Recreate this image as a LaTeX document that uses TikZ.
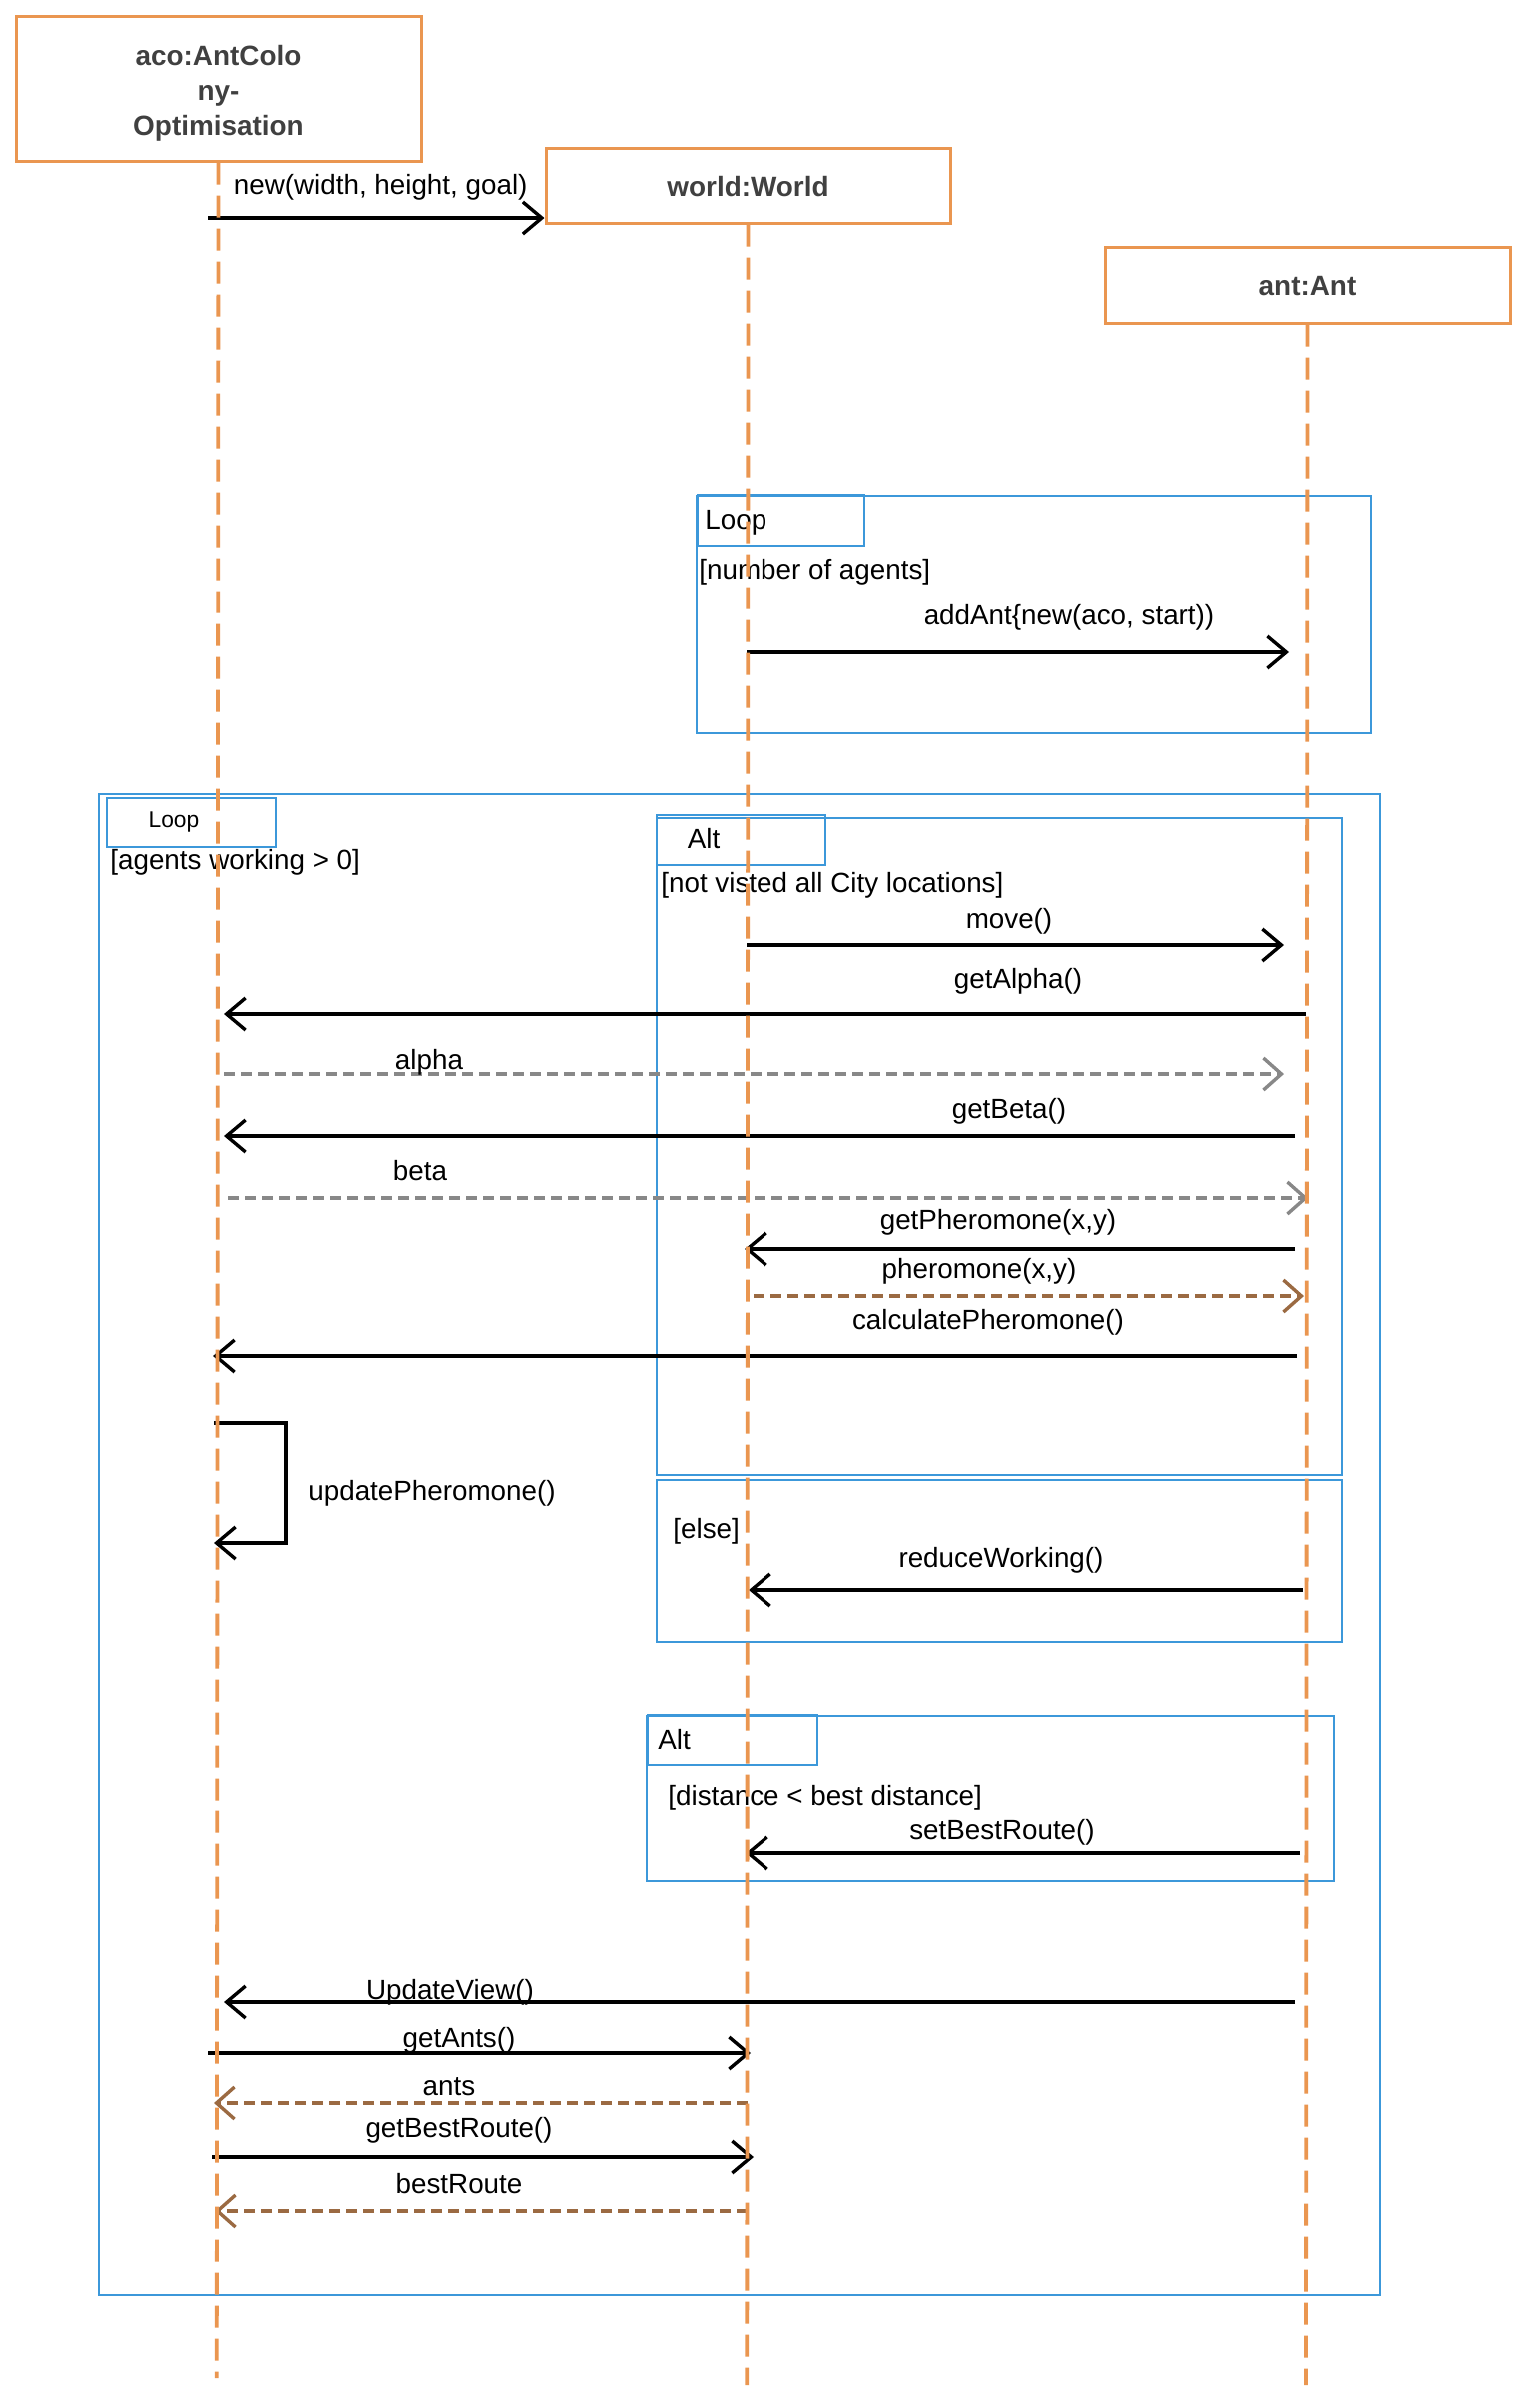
\documentclass[tikz,border=0pt]{standalone}
\usepackage{fontspec}
\setmainfont{Liberation Sans}
\usetikzlibrary{arrows.meta}
\definecolor{llorange}{RGB}{234,150,80}
\definecolor{frblue}{RGB}{60,152,218}
\definecolor{rgray}{RGB}{136,136,136}
\definecolor{rbrown}{RGB}{155,106,66}
\definecolor{hdgray}{RGB}{64,64,64}
\begin{document}
\begin{tikzpicture}[x=0.5pt,y=-0.5pt,
 objbox/.style={draw=llorange, line width=1.5pt, fill=white, inner sep=0pt},
 objtext/.style={inner sep=0pt, font=\fontsize{13.95}{17.4}\selectfont\bfseries, text=hdgray, align=center},
 lifeline/.style={draw=llorange, line width=1.9pt, dash pattern=on 11pt off 5.5pt},
 frame/.style={draw=frblue, line width=0.8pt},
 lbl/.style={inner sep=0pt, yshift=-1pt, font=\fontsize{13.9}{16}\selectfont, text height=10.2pt, text depth=2.9pt},
 smalllbl/.style={inner sep=0pt, yshift=-0.5pt, font=\fontsize{11.4}{13}\selectfont, text height=8.4pt, text depth=2.4pt},
 callarrow/.style={draw=black, line width=1.7pt, -{Straight Barb[length=9.5pt,width=16pt]}},
 retgray/.style={draw=rgray, line width=1.7pt, dash pattern=on 5.5pt off 3pt, -{Straight Barb[length=9pt,width=16pt]}},
 retbrown/.style={draw=rbrown, line width=1.7pt, dash pattern=on 5.5pt off 3pt, -{Straight Barb[length=9pt,width=16pt]}}
]
\useasboundingbox (0,0) rectangle (1530,2410);
\fill[white] (0,0) rectangle (1530,2410);

% ---------- frames ----------
\draw[frame] (697,496) rectangle (1372,734);
\node[frame, draw, inner sep=0pt, minimum width=83.5pt, minimum height=25.5pt, anchor=north west] (loopA) at (697,494) {};
\draw[frame] (99,795) rectangle (1381,2297);
\node[frame, draw, inner sep=0pt, minimum width=84.5pt, minimum height=24.5pt, anchor=north west] (loopB) at (106,798) {};
\draw[frame] (657,819) rectangle (1343,1476);
\draw[frame] (657,1481) rectangle (1343,1643);
\node[frame, draw, inner sep=0pt, minimum width=84.5pt, minimum height=25pt, anchor=north west] (altA) at (656,815) {};
\draw[frame] (647,1717) rectangle (1335,1883);
\node[frame, draw, inner sep=0pt, minimum width=85pt, minimum height=25pt, anchor=north west] (altB) at (647,1715) {};

% ---------- frame texts ----------
\node[lbl, anchor=west] (tLoopA) at (705,520) {Loop};
\node[lbl, anchor=west] (gLoopA) at (699,570) {[number of agents]};
\node[smalllbl] (tLoopB) at (174,821) {Loop};
\node[lbl, anchor=west] (gLoopB) at (110,861) {[agents working > 0]};
\node[lbl] (tAltA) at (704,840) {Alt};
\node[lbl, anchor=west] (gAltA) at (661,884) {[not visted all City locations]};
\node[lbl, anchor=west] (gElse) at (673,1530) {[else]};
\node[lbl, anchor=west] (tAltB) at (658,1741) {Alt};
\node[lbl, anchor=west] (gAltB) at (668,1797) {[distance < best distance]};

% ---------- object heads ----------
\node[objbox, minimum width=202.5pt, minimum height=72.5pt] (aco) at (218.5,88.5) {};
\node[objtext, yshift=-2.5pt] (acoT) at (aco.center) {aco:AntColo\\ny-\\Optimisation};
\node[objbox, minimum width=202.5pt, minimum height=37.5pt] (world) at (748.5,185.5) {};
\node[objtext, yshift=-0.5pt] (worldT) at (world.center) {world:World};
\node[objbox, minimum width=202.5pt, minimum height=38pt] (ant) at (1308.5,285) {};
\node[objtext, yshift=-0.5pt] (antT) at (ant.center) {ant:Ant};

% ---------- message coordinates ----------
\coordinate (n1s) at (208,218);
\coordinate (a1s) at (747,653);   \coordinate (a1e) at (1290,653);
\coordinate (mvs) at (747,946);   \coordinate (mve) at (1285,946);
\coordinate (gas) at (1307,1015); \coordinate (gae) at (224,1015);
\coordinate (als) at (224,1075);  \coordinate (ale) at (1285,1075);
\coordinate (gbs) at (1296,1137); \coordinate (gbe) at (224,1137);
\coordinate (bts) at (228,1199);  \coordinate (bte) at (1309,1199);
\coordinate (gps) at (1296,1250); \coordinate (gpe) at (745,1250);
\coordinate (phs) at (754,1297);  \coordinate (phe) at (1305,1297);
\coordinate (cps) at (1298,1357); \coordinate (cpe) at (213,1357);
\coordinate (up1) at (214,1424);  \coordinate (up2) at (286,1424);
\coordinate (up3) at (286,1544);  \coordinate (up4) at (214,1544);
\coordinate (rws) at (1304,1591); \coordinate (rwe) at (749,1591);
\coordinate (sbs) at (1301,1855); \coordinate (sbe) at (746,1855);
\coordinate (uvs) at (1296,2004); \coordinate (uve) at (224,2004);
\coordinate (gns) at (208,2055);  \coordinate (gne) at (751,2055);
\coordinate (ans) at (748,2105);  \coordinate (ane) at (214,2105);
\coordinate (grs) at (212,2159);  \coordinate (gre) at (754,2159);
\coordinate (brs) at (748,2213);  \coordinate (bre) at (215,2213);

% ---------- messages ----------
\draw[callarrow] (n1s) -- (n1s -| world.west);
\draw[callarrow] (a1s) -- (a1e);
\draw[callarrow] (mvs) -- (mve);
\draw[callarrow] (gas) -- (gae);
\draw[retgray] (als) -- (ale);
\draw[callarrow] (gbs) -- (gbe);
\draw[retgray] (bts) -- (bte);
\draw[callarrow] (gps) -- (gpe);
\draw[retbrown] (phs) -- (phe);
\draw[callarrow] (cps) -- (cpe);
\draw[callarrow, line join=miter] (up1) -- (up2) -- (up3) -- (up4);
\draw[callarrow] (rws) -- (rwe);
\draw[callarrow] (sbs) -- (sbe);
\draw[callarrow] (uvs) -- (uve);
\draw[callarrow] (gns) -- (gne);
\draw[retbrown] (ans) -- (ane);
\draw[callarrow] (grs) -- (gre);
\draw[retbrown] (brs) -- (bre);

% ---------- message labels ----------
\node[lbl] (lnew) at (380.7,185) {new(width, height, goal)};
\node[lbl] (ladd) at (1070,616) {addAnt\{new(aco, start))};
\node[lbl] (lmv) at (1010,920) {move()};
\node[lbl] (lga) at (1019,980) {getAlpha()};
\node[lbl] (lal) at (429,1061) {alpha};
\node[lbl] (lgb) at (1010,1110) {getBeta()};
\node[lbl] (lbt) at (420,1172) {beta};
\node[lbl] (lgp) at (999,1221) {getPheromone(x,y)};
\node[lbl] (lph) at (980,1270) {pheromone(x,y)};
\node[lbl] (lcp) at (989,1321) {calculatePheromone()};
\node[lbl, anchor=west] (lup) at (308,1492) {updatePheromone()};
\node[lbl] (lrw) at (1002,1559) {reduceWorking()};
\node[lbl] (lsb) at (1003,1832) {setBestRoute()};
\node[lbl] (luv) at (450,1992) {UpdateView()};
\node[lbl] (lgn) at (459,2040) {getAnts()};
\node[lbl] (lan) at (449,2088) {ants};
\node[lbl] (lgr) at (459,2130) {getBestRoute()};
\node[lbl] (lbr) at (459,2186) {bestRoute};

% ---------- lifelines ----------
\coordinate (acoEnd) at (216.8,2380);
\coordinate (worldEnd) at (747.3,2387);
\coordinate (antEnd) at (1307,2387);
\draw[lifeline] (aco.south) -- (acoEnd);
\draw[lifeline] (world.south) -- (worldEnd);
\draw[lifeline] (ant.south) -- (antEnd);
\end{tikzpicture}
\end{document}
